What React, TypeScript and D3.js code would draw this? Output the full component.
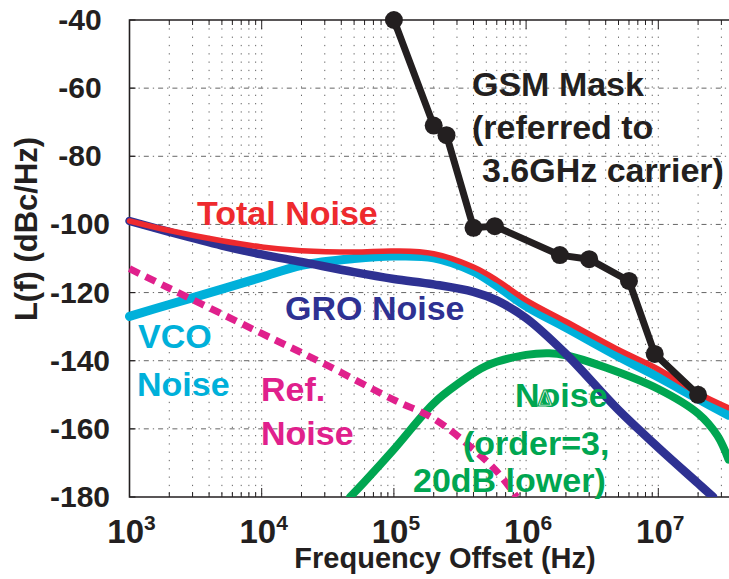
import React, { useEffect, useRef } from "react";
import * as d3 from "d3";

type Pt = [number, number]; // [offset frequency in Hz, dBc/Hz]

// GSM mask (black, with markers)
const gsmMask: Pt[] = [
  [1e5, -40], [2e5, -71], [2.5e5, -73.8], [4e5, -101], [5.8e5, -100.5],
  [1.8e6, -109], [3e6, -110.2], [6e6, -116.6], [9.4e6, -138], [2e7, -150],
];

const totalNoise: Pt[] = [
  [1e3, -99], [2e3, -101.8], [5e3, -104.8], [1e4, -106.6], [2e4, -107.7],
  [5e4, -108.1], [1e5, -107.8], [2e5, -108.6], [4e5, -112.5], [6e5, -116.3],
  [1e6, -122.2], [2e6, -128.5], [5e6, -136.8], [1e7, -142.5], [2e7, -149.5], [3.4e7, -153.8],
];

const vcoNoise: Pt[] = [
  [1e3, -127], [2e3, -123.5], [5e3, -119], [1e4, -115.5], [2e4, -112],
  [5e4, -110], [1e5, -109.3], [2e5, -109.8], [4e5, -113.8], [6e5, -118],
  [1e6, -124], [2e6, -130.3], [5e6, -138.8], [1e7, -144.8], [2e7, -151.2], [3.4e7, -156],
];

const groNoise: Pt[] = [
  [1e3, -99], [2e3, -102.2], [5e3, -106.2], [1e4, -108.8], [2e4, -111],
  [5e4, -114], [1e5, -116], [2e5, -117.6], [4e5, -119.8], [6e5, -122.3],
  [1e6, -127.5], [2e6, -138], [5e6, -154.5], [1e7, -165.5], [2e7, -176], [2.6e7, -180],
];

const refNoise: Pt[] = [
  [1e3, -113], [1e4, -132], [3e4, -141], [1e5, -151.5], [2e5, -157],
  [4e5, -166], [6e5, -172.5], [8.5e5, -180],
];

const sdNoise: Pt[] = [
  [4.66e4, -180], [6e4, -175.5], [1e5, -166], [2e5, -152.5], [3e5, -147],
  [5e5, -141.5], [1e6, -138.3], [1.5e6, -137.8], [2e6, -138.4], [4e6, -142],
  [1e7, -148.3], [2e7, -155.5], [2.8e7, -162], [3.4e7, -169],
];

const yTicks = [-40, -60, -80, -100, -120, -140, -160, -180];
const xDecades = [3, 4, 5, 6, 7];
const minorMults = [1, 2, 3, 4, 5, 6, 7, 8, 9];

const FONT = "'Liberation Sans', Arial, Helvetica, sans-serif";

const App: React.FC = () => {
  const ref = useRef<SVGSVGElement | null>(null);

  useEffect(() => {
    if (!ref.current) return;
    const width = 729;
    const height = 579;
    const left = 129.5, right = 729, top = 20, bottom = 497;

    const svg = d3.select(ref.current);
    svg.selectAll("*").remove();
    svg.attr("width", width).attr("height", height);

    const x = d3.scaleLog().domain([1e3, 1e7]).range([left, 658.3]);
    const y = d3.scaleLinear().domain([-180, -40]).range([bottom, top]);

    svg.append("rect").attr("width", width).attr("height", height).attr("fill", "#fff");

    svg.append("defs").append("clipPath").attr("id", "plot-clip")
      .append("rect").attr("x", 100).attr("y", top).attr("width", right - 100).attr("height", bottom - top);

    // grid
    const grid = svg.append("g");
    xDecades.forEach(k => {
      minorMults.forEach(m => {
        const f = m * Math.pow(10, k);
        const px = x(f);
        if (px <= left + 1 || px > right) return;
        grid.append("line")
          .attr("x1", px).attr("x2", px).attr("y1", top).attr("y2", bottom)
          .attr("stroke", "#666").attr("stroke-width", 1)
          .attr("stroke-dasharray", "1.3,7");
        const len = m === 1 ? 9 : 5;
        grid.append("line").attr("x1", px).attr("x2", px).attr("y1", bottom).attr("y2", bottom - len)
          .attr("stroke", "#231f20").attr("stroke-width", 1);
        grid.append("line").attr("x1", px).attr("x2", px).attr("y1", top).attr("y2", top + len)
          .attr("stroke", "#231f20").attr("stroke-width", 1);
      });
    });
    yTicks.forEach(v => {
      const py = y(v);
      if (v !== -40 && v !== -180) {
        grid.append("line")
          .attr("x1", left).attr("x2", right).attr("y1", py).attr("y2", py)
          .attr("stroke", "#666").attr("stroke-width", 1)
          .attr("stroke-dasharray", "5,4,1.3,4");
      }
      grid.append("line").attr("x1", left).attr("x2", left + 6).attr("y1", py).attr("y2", py)
        .attr("stroke", "#231f20").attr("stroke-width", 1.2);
    });

    // axes frame
    svg.append("path")
      .attr("d", `M${right},${top}H${left}V${bottom}H${right}`)
      .attr("fill", "none").attr("stroke", "#231f20").attr("stroke-width", 1.6);

    // tick labels
    yTicks.forEach(v => {
      svg.append("text")
        .attr("x", 80).attr("y", y(v) + 10)
        .attr("text-anchor", "middle")
        .attr("font-family", FONT).attr("font-weight", "bold").attr("font-size", 30)
        .attr("fill", "#231f20")
        .text(`${v}`);
    });
    xDecades.forEach(k => {
      const t = svg.append("text")
        .attr("x", x(Math.pow(10, k)) + 2).attr("y", 543)
        .attr("text-anchor", "middle")
        .attr("font-family", FONT).attr("font-weight", "bold")
        .attr("fill", "#231f20");
      t.append("tspan").attr("font-size", 33).text("10");
      t.append("tspan").attr("font-size", 21).attr("dy", -13).text(`${k}`);
    });

    svg.append("text")
      .attr("transform", "translate(37,229) rotate(-90)")
      .attr("text-anchor", "middle")
      .attr("font-family", FONT).attr("font-weight", "bold").attr("font-size", 31)
      .attr("fill", "#231f20")
      .text("L(f) (dBc/Hz)");
    svg.append("text")
      .attr("x", 445).attr("y", 568)
      .attr("text-anchor", "middle")
      .attr("font-family", FONT).attr("font-weight", "bold").attr("font-size", 29)
      .attr("fill", "#231f20")
      .text("Frequency Offset (Hz)");

    // curves
    const smooth = d3.line<Pt>()
      .x(d => x(d[0]))
      .y(d => y(d[1]))
      .curve(d3.curveCatmullRom.alpha(0.5));
    const straight = d3.line<Pt>().x(d => x(d[0])).y(d => y(d[1]));

    const plot = svg.append("g").attr("clip-path", "url(#plot-clip)");
    const drawCurve = (data: Pt[], color: string, w: number, dash?: string) => {
      const p = plot.append("path")
        .attr("d", smooth(data) || "")
        .attr("fill", "none")
        .attr("stroke", color)
        .attr("stroke-width", w)
        .attr("stroke-linecap", dash ? "butt" : "round")
        .attr("stroke-linejoin", "round");
      if (dash) p.attr("stroke-dasharray", dash);
    };

    drawCurve(sdNoise, "#00a651", 8);
    drawCurve(vcoNoise, "#00b0da", 9);
    drawCurve(refNoise, "#e0208c", 7, "11,7");
    drawCurve(groNoise, "#2e3192", 8.5);
    drawCurve(totalNoise, "#ee2a2e", 5.5);

    svg.append("path")
      .attr("d", straight(gsmMask) || "")
      .attr("fill", "none")
      .attr("stroke", "#231f20")
      .attr("stroke-width", 7)
      .attr("stroke-linejoin", "round");
    svg.selectAll("circle.gsm")
      .data(gsmMask)
      .enter()
      .append("circle")
      .attr("class", "gsm")
      .attr("cx", d => x(d[0]))
      .attr("cy", d => y(d[1]))
      .attr("r", 9)
      .attr("fill", "#231f20");

    // annotations
    const label = (txt: string, px: number, py: number, color: string) => {
      svg.append("text")
        .attr("x", px).attr("y", py)
        .attr("font-family", FONT).attr("font-weight", "bold").attr("font-size", 34)
        .attr("fill", color)
        .text(txt);
    };
    label("GSM Mask", 472, 96, "#231f20");
    label("(referred to", 472, 139, "#231f20");
    label("3.6GHz carrier)", 482, 182, "#231f20");
    label("Total Noise", 197, 225, "#ee2a2e");
    label("GRO Noise", 285, 320, "#2e3192");
    label("VCO", 138, 348, "#00b0da");
    label("Noise", 137, 396, "#00b0da");
    label("Ref.", 261, 401, "#e0208c");
    label("Noise", 261, 445, "#e0208c");
    label("Noise", 515, 407, "#00a651");
    label("(order=3,", 463, 455, "#00a651");
    label("20dB lower)", 413, 492, "#00a651");

    // stray delta glyph drawn over the green "Noise" label
    svg.append("text")
      .attr("x", 545).attr("y", 406)
      .attr("text-anchor", "middle")
      .attr("font-family", "'DejaVu Sans', sans-serif").attr("font-size", 22)
      .attr("fill", "#fff").attr("stroke", "#00a651").attr("stroke-width", 1.2)
      .text("Δ");
  }, []);

  return (
    <svg ref={ref} style={{ position: "absolute", left: 0, top: 0 }} />
  );
};

export default App;
